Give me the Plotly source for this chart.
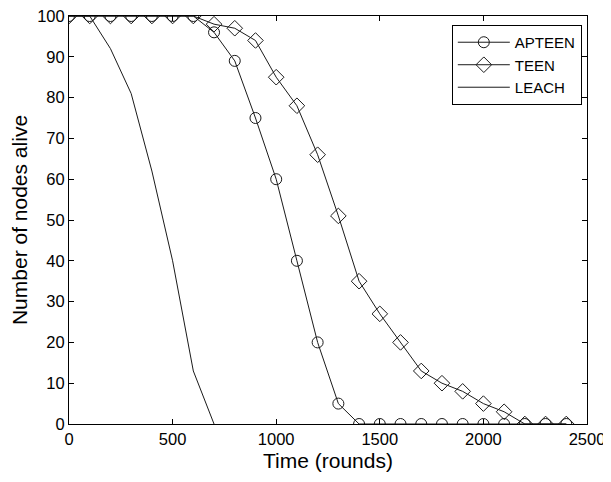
import plotly.graph_objects as go

rounds = [0, 100, 200, 300, 400, 500, 600, 700, 800, 900, 1000, 1100, 1200,
          1300, 1400, 1500, 1600, 1700, 1800, 1900, 2000, 2100, 2200, 2300, 2400]
apteen = [100, 100, 100, 100, 100, 100, 100, 96, 89, 75, 60, 40, 20,
          5, 0, 0, 0, 0, 0, 0, 0, 0, 0, 0, 0]
teen = [100, 100, 100, 100, 100, 100, 100, 98, 97, 94, 85, 78, 66,
        51, 35, 27, 20, 13, 10, 8, 5, 3, 0, 0, 0]
leach_rounds = [0, 100, 200, 300, 400, 500, 600, 700]
leach = [100, 100, 92, 81, 62, 40, 13, 0]

x_ticks = [0, 500, 1000, 1500, 2000, 2500]
y_ticks = [0, 10, 20, 30, 40, 50, 60, 70, 80, 90, 100]

LC = "#1a1a1a"
fig = go.Figure()
fig.add_trace(go.Scatter(x=rounds, y=apteen, name="APTEEN", mode="lines+markers",
                         line=dict(color=LC, width=1),
                         marker=dict(symbol="circle-open", size=11, color=LC, line=dict(width=1))))
fig.add_trace(go.Scatter(x=rounds, y=teen, name="TEEN", mode="lines+markers",
                         line=dict(color=LC, width=1),
                         marker=dict(symbol="diamond-open", size=12, color=LC, line=dict(width=1))))
fig.add_trace(go.Scatter(x=leach_rounds, y=leach, name="LEACH", mode="lines",
                         line=dict(color=LC, width=1)))

font = "Liberation Sans, Arial, Helvetica, sans-serif"
axis_common = dict(showgrid=False, zeroline=False, showline=True, linecolor="black",
                   linewidth=1, mirror="ticks", ticks="inside", ticklen=5,
                   tickcolor="black", automargin=False, ticklabeloverflow="allow",
                   tickfont=dict(size=16.5, color="black", family=font))
fig.update_xaxes(range=[0, 2500], tickvals=x_ticks, **axis_common,
                 title=dict(text="Time (rounds)", font=dict(size=21, color="black", family=font), standoff=6))
fig.update_yaxes(range=[0, 100], tickvals=y_ticks, **axis_common,
                 title=dict(text="Number of nodes alive", font=dict(size=21, color="black", family=font), standoff=4))

# page body has an 8px margin, so the figure is sized to fit inside the 611x482 window
fig.update_layout(
    width=603, height=474,
    margin=dict(l=61, r=24, t=8, b=58),
    plot_bgcolor="white", paper_bgcolor="white",
    font=dict(family=font, color="black"),
    legend=dict(x=0.99, y=0.978, xanchor="right", yanchor="top",
                bgcolor="white", bordercolor="black", borderwidth=1,
                font=dict(size=15, color="black", family=font),
                itemwidth=52),
)
fig.write_html("out.html")
